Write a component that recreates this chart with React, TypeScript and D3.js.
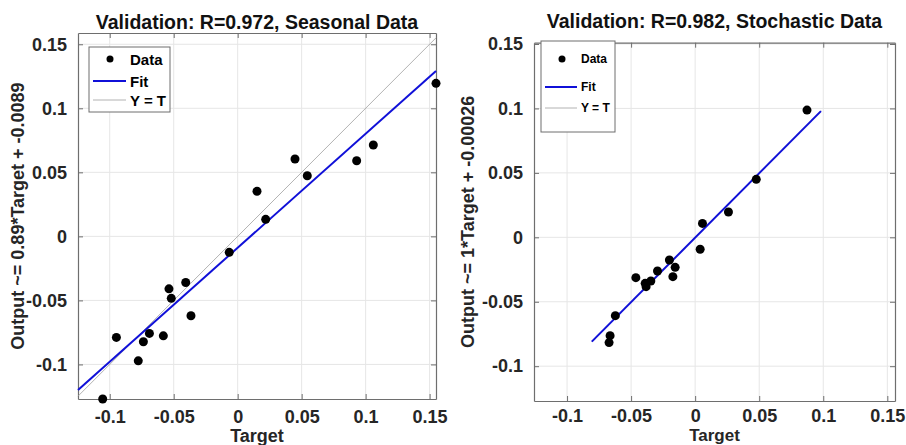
import React, { useEffect, useRef } from 'react';
import * as d3 from 'd3';

// validation scatter: target vs network output
const seasonalTarget = [0.155, 0.106, 0.0448, 0.093, 0.0544, 0.0151, 0.0219, -0.0066, -0.0537, -0.0406, -0.0519, -0.0365, -0.0948, -0.069, -0.0737, -0.0581, -0.0777, -0.1055];
const seasonalOutput = [0.1195, 0.0713, 0.0604, 0.059, 0.0473, 0.0352, 0.0133, -0.0125, -0.041, -0.036, -0.0484, -0.062, -0.0789, -0.0758, -0.0823, -0.0777, -0.0972, -0.127];

const stochasticTarget = [0.0873, 0.0477, 0.026, 0.0057, 0.0039, -0.0201, -0.0156, -0.0174, -0.0294, -0.0463, -0.039, -0.0383, -0.0346, -0.0623, -0.0664, -0.0672];
const stochasticOutput = [0.0987, 0.045, 0.0196, 0.0108, -0.0093, -0.0176, -0.0233, -0.0305, -0.0261, -0.0313, -0.0357, -0.0383, -0.0339, -0.0608, -0.0763, -0.0817];

const tickValues = [-0.1, -0.05, 0, 0.05, 0.1, 0.15];
const tickLabels = ['-0.1', '-0.05', '0', '0.05', '0.1', '0.15'];
const legendLabels = ['Data', 'Fit', 'Y = T'];

const FONT = 'Liberation Sans, Arial, sans-serif';

const panels = [
  {
    title: 'Validation: R=0.972, Seasonal Data',
    ylabel: 'Output ~= 0.89*Target + -0.0089',
    target: seasonalTarget,
    output: seasonalOutput,
    slope: 0.89,
    intercept: -0.0089,
    fitRange: [-0.1248, 0.155],
    box: { x0: 78, x1: 436, y0: 33, y1: 399 },
    xDomain: [-0.1248, 0.155],
    yDomain: [-0.127, 0.1588],
    titleY: 29,
    xPad: 11,
    xlabelY: 442,
    xlabelFs: 18,
    ylabelX: 19,
    legend: { x: 89, y: 47, w: 81, h: 65, rows: [59, 81, 100], mark: 110, l0: 93, l1: 126, tx: 130, fs: 15 }
  },
  {
    title: 'Validation: R=0.982, Stochastic Data',
    ylabel: 'Output ~= 1*Target + -0.00026',
    target: stochasticTarget,
    output: stochasticOutput,
    slope: 1,
    intercept: -0.00026,
    fitRange: [-0.0807, 0.0982],
    box: { x0: 534, x1: 895, y0: 42.7, y1: 401 },
    xDomain: [-0.1258, 0.156],
    yDomain: [-0.127, 0.151],
    titleY: 28,
    xPad: 8,
    xlabelY: 441.2,
    xlabelFs: 17,
    ylabelX: 469,
    legend: { x: 541, y: 41, w: 74, h: 91, rows: [59, 87, 108], mark: 562, l0: 545, l1: 577, tx: 581, fs: 12 }
  }
];

export default function App() {
  const ref = useRef<SVGSVGElement>(null);

  useEffect(() => {
    document.body.style.margin = '0';
    const svg = d3.select(ref.current);
    svg.selectAll('*').remove();

    panels.forEach((p) => {
      const x = d3.scaleLinear().domain(p.xDomain).range([p.box.x0, p.box.x1]);
      const y = d3.scaleLinear().domain(p.yDomain).range([p.box.y1, p.box.y0]);
      const g = svg.append('g');

      // grid
      g.selectAll('.gx').data(tickValues).enter().append('line')
        .attr('x1', (d) => x(d)).attr('x2', (d) => x(d))
        .attr('y1', p.box.y0).attr('y2', p.box.y1)
        .attr('stroke', '#e6e6e6').attr('stroke-width', 1);
      g.selectAll('.gy').data(tickValues).enter().append('line')
        .attr('y1', (d) => y(d)).attr('y2', (d) => y(d))
        .attr('x1', p.box.x0).attr('x2', p.box.x1)
        .attr('stroke', '#e6e6e6').attr('stroke-width', 1);

      // axes, ticks inward on all sides
      const fmt = (d: any) => tickLabels[tickValues.indexOf(d)];
      const axes = [
        { a: d3.axisBottom(x).tickValues(tickValues).tickFormat(fmt).tickSizeInner(-5).tickSizeOuter(0).tickPadding(p.xPad), t: `translate(0,${p.box.y1})`, lab: true },
        { a: d3.axisTop(x).tickValues(tickValues).tickSizeInner(-5).tickSizeOuter(0), t: `translate(0,${p.box.y0})`, lab: false },
        { a: d3.axisLeft(y).tickValues(tickValues).tickFormat(fmt).tickSizeInner(-5).tickSizeOuter(0).tickPadding(11), t: `translate(${p.box.x0},0)`, lab: true },
        { a: d3.axisRight(y).tickValues(tickValues).tickSizeInner(-5).tickSizeOuter(0), t: `translate(${p.box.x1},0)`, lab: false }
      ];
      axes.forEach((ax) => {
        const ag = g.append('g').attr('transform', ax.t).call(ax.a as any);
        ag.select('.domain').attr('stroke', '#6e6e6e').attr('stroke-width', 1.2);
        ag.selectAll('.tick line').attr('stroke', '#6e6e6e');
        ag.selectAll('.tick text')
          .attr('fill', '#262626')
          .style('font-family', FONT)
          .style('font-size', '18px')
          .style('font-weight', 'bold')
          .style('display', ax.lab ? null : 'none');
      });

      // Y = T line
      g.append('line')
        .attr('x1', x(p.fitRange[0])).attr('y1', y(p.fitRange[0]))
        .attr('x2', x(p.fitRange[1])).attr('y2', y(p.fitRange[1]))
        .attr('stroke', '#a0a0a0').attr('stroke-width', 0.8);

      // fit line
      g.append('line')
        .attr('x1', x(p.fitRange[0])).attr('y1', y(p.slope * p.fitRange[0] + p.intercept))
        .attr('x2', x(p.fitRange[1])).attr('y2', y(p.slope * p.fitRange[1] + p.intercept))
        .attr('stroke', '#1010d8').attr('stroke-width', 2);

      // data points
      g.selectAll('circle.pt').data(p.target).enter().append('circle')
        .attr('class', 'pt')
        .attr('cx', (d) => x(d))
        .attr('cy', (d, i) => y(p.output[i]))
        .attr('r', 4.5)
        .attr('fill', '#000');

      // title
      g.append('text')
        .attr('x', (p.box.x0 + p.box.x1) / 2).attr('y', p.titleY)
        .attr('text-anchor', 'middle')
        .style('font-family', FONT).style('font-size', '19.5px').style('font-weight', 'bold')
        .attr('fill', '#111')
        .text(p.title);

      // x label
      g.append('text')
        .attr('x', (p.box.x0 + p.box.x1) / 2).attr('y', p.xlabelY)
        .attr('text-anchor', 'middle')
        .style('font-family', FONT).style('font-size', `${p.xlabelFs}px`).style('font-weight', 'bold')
        .attr('fill', '#262626')
        .text('Target');

      // y label
      g.append('text')
        .attr('transform', `translate(${p.ylabelX},${(p.box.y0 + p.box.y1) / 2}) rotate(-90)`)
        .attr('text-anchor', 'middle')
        .attr('dominant-baseline', 'middle')
        .style('font-family', FONT).style('font-size', '18px').style('font-weight', 'bold')
        .attr('fill', '#262626')
        .text(p.ylabel);

      // legend
      const L = p.legend;
      const lg = g.append('g');
      lg.append('rect')
        .attr('x', L.x).attr('y', L.y).attr('width', L.w).attr('height', L.h)
        .attr('fill', '#fff').attr('stroke', '#6e6e6e').attr('stroke-width', 1);
      lg.append('circle').attr('cx', L.mark).attr('cy', L.rows[0]).attr('r', 3.5).attr('fill', '#000');
      lg.append('line').attr('x1', L.l0).attr('x2', L.l1).attr('y1', L.rows[1]).attr('y2', L.rows[1])
        .attr('stroke', '#1010d8').attr('stroke-width', 2);
      lg.append('line').attr('x1', L.l0).attr('x2', L.l1).attr('y1', L.rows[2]).attr('y2', L.rows[2])
        .attr('stroke', '#a0a0a0').attr('stroke-width', 0.8);
      lg.selectAll('text').data(legendLabels).enter().append('text')
        .attr('x', L.tx).attr('y', (d, i) => L.rows[i])
        .attr('dominant-baseline', 'central')
        .style('font-family', FONT).style('font-size', `${L.fs}px`).style('font-weight', 'bold')
        .attr('fill', '#000')
        .text((d) => d);
    });
  }, []);

  return <svg ref={ref} width={906} height={445} style={{ display: 'block', background: '#fff' }} />;
}
